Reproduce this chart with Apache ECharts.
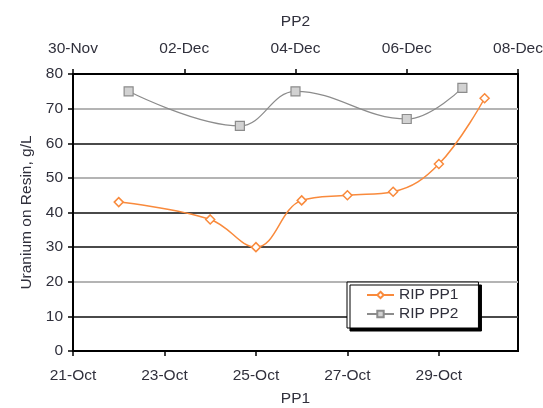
<!DOCTYPE html>
<html>
<head>
<meta charset="utf-8">
<title>Uranium on Resin</title>
<script src="https://cdn.jsdelivr.net/npm/echarts@6/dist/echarts.min.js"></script>
<style>
  html, body { margin: 0; padding: 0; background: #fff; }
  #main { width: 543px; height: 408px; }
</style>
</head>
<body>
<div id="main"></div>
<script>
// PP1: days of October, PP2: days after 30-Nov
var pp1Days = [22, 24, 25, 26, 27, 28, 29, 30];
var pp1Values = [43, 38, 30, 43.5, 45, 46, 54, 73];
var pp2Days = [1, 3, 4, 6, 7];
var pp2Values = [75, 65, 75, 67, 76];
var pp1Ticks = ["21-Oct", "23-Oct", "25-Oct", "27-Oct", "29-Oct"];
var pp2Ticks = ["30-Nov", "02-Dec", "04-Dec", "06-Dec", "08-Dec"];

var font = "Liberation Sans";
var textColor = "#30303c";
var fs = 15.5;

var myChart = echarts.init(document.getElementById("main"));

function pairs(xs, ys) {
    return xs.map(function (x, i) { return [x, ys[i]]; });
}

var option = {
    animation: false,
    textStyle: { fontFamily: font },
    grid: {
        left: 73, right: 25, top: 74, bottom: 57,
        containLabel: false, outerBoundsMode: "none",
        show: true, borderColor: "#000", borderWidth: 2, backgroundColor: "#fff"
    },
    legend: {
        orient: "vertical",
        left: 347, top: 282,
        padding: [5, 20, 6, 19],
        itemWidth: 27, itemHeight: 8, itemGap: 3,
        backgroundColor: "#fff",
        borderColor: "#000", borderWidth: 1,
        shadowColor: "#000", shadowBlur: 0, shadowOffsetX: 3, shadowOffsetY: 3,
        textStyle: { fontFamily: font, fontSize: fs, color: textColor },
        data: ["RIP PP1", "RIP PP2"]
    },
    xAxis: [{
        type: "value", position: "bottom",
        min: 21, max: 30.73, interval: 2,
        name: "PP1", nameLocation: "middle", nameGap: 40,
        nameTextStyle: { fontFamily: font, fontSize: fs, color: textColor },
        axisLine: { lineStyle: { color: "#000", width: 2 } },
        axisTick: { length: 5, lineStyle: { color: "#000", width: 1.5 } },
        axisLabel: {
            margin: 17, fontSize: fs, color: textColor, showMaxLabel: false,
            formatter: function (v) {
                var i = Math.round((v - 21) / 2);
                return Math.abs(v - 21 - i * 2) < 0.01 ? (pp1Ticks[i] || "") : "";
            }
        },
        splitLine: { show: false }
    }, {
        type: "value", position: "top",
        min: 0, max: 8, interval: 2,
        name: "PP2", nameLocation: "middle", nameGap: 44,
        nameTextStyle: { fontFamily: font, fontSize: fs, color: textColor },
        axisLine: { lineStyle: { color: "#000", width: 2 } },
        axisTick: { length: 5, lineStyle: { color: "#000", width: 1.5 } },
        axisLabel: {
            margin: 17, fontSize: fs, color: textColor,
            formatter: function (v) { return pp2Ticks[Math.round(v / 2)] || ""; }
        },
        splitLine: { show: false }
    }],
    yAxis: {
        type: "value", min: 0, max: 80, interval: 10,
        name: "Uranium on Resin, g/L", nameLocation: "middle", nameGap: 30,
        nameTextStyle: { fontFamily: font, fontSize: fs, color: textColor },
        axisLine: { show: true, lineStyle: { color: "#000", width: 2 } },
        axisTick: { show: true, length: 5, lineStyle: { color: "#000", width: 1.5 } },
        axisLabel: { margin: 10, fontSize: fs, color: textColor },
        splitLine: {
            show: true,
            lineStyle: {
                width: 2,
                color: ["#000", "#4a4a4a", "#b4b4b4", "#4a4a4a", "#4a4a4a", "#b4b4b4", "#4a4a4a", "#b4b4b4", "#000"]
            }
        }
    },
    series: [{
        name: "RIP PP1",
        type: "line",
        xAxisIndex: 0,
        smooth: 0.4,
        data: pairs(pp1Days, pp1Values),
        symbol: "diamond", symbolSize: 9,
        lineStyle: { color: "#f98a3c", width: 1.5 },
        itemStyle: { color: "#fff", borderColor: "#f98a3c", borderWidth: 1.5 },
        z: 3
    }, {
        name: "RIP PP2",
        type: "line",
        xAxisIndex: 1,
        smooth: 0.4,
        data: pairs(pp2Days, pp2Values),
        symbol: "rect", symbolSize: 9,
        lineStyle: { color: "#8c8c8c", width: 1.2 },
        itemStyle: { color: "#d2d2d2", borderColor: "#8c8c8c", borderWidth: 1.2 },
        z: 3
    }]
};

myChart.setOption(option);
window.myChart = myChart;
</script>
</body>
</html>
